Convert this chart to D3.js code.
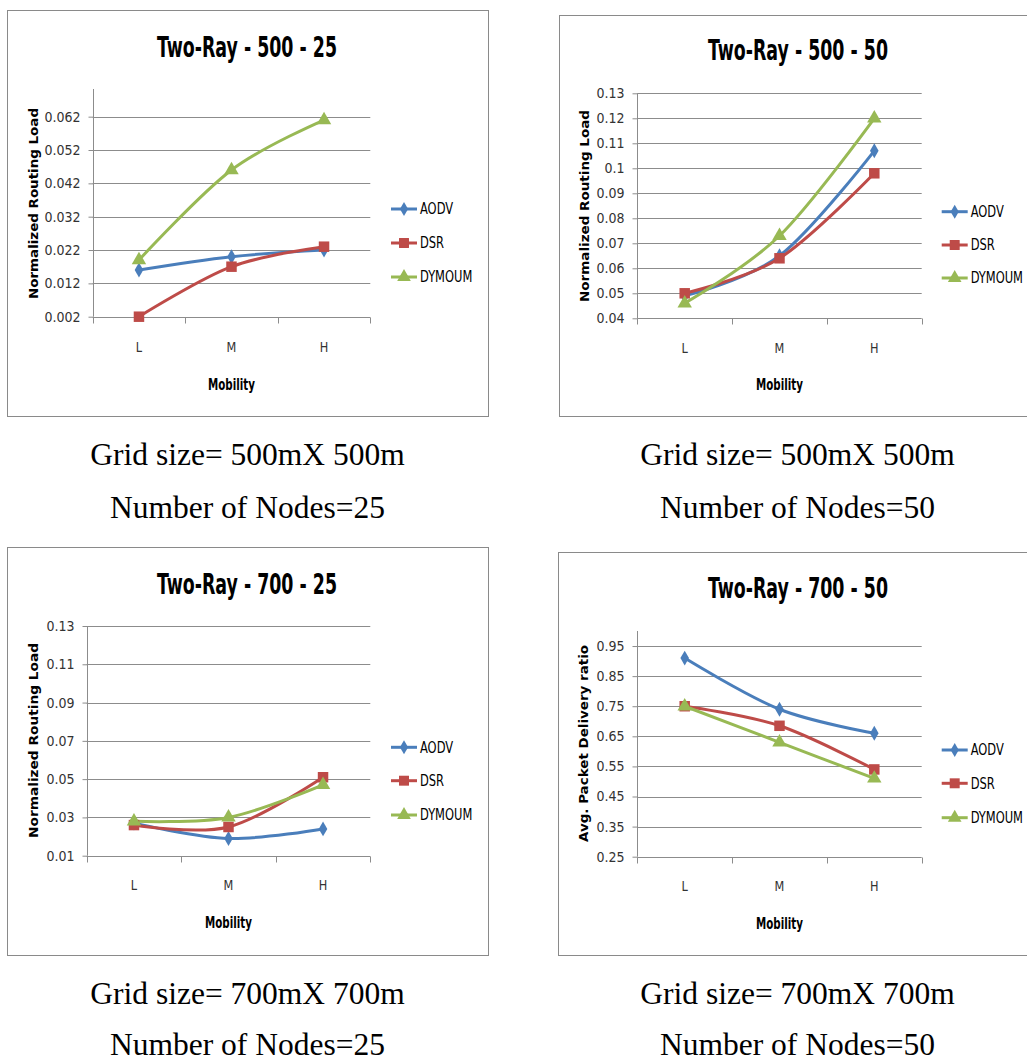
<!DOCTYPE html>
<html><head><meta charset="utf-8">
<script src="https://cdn.jsdelivr.net/npm/d3@7"></script>
<style>html,body{margin:0;padding:0;background:#fff;}svg{display:block;}</style>
</head><body>
<svg id="c" width="1027" height="1063"></svg>
<script>
// ---------- data ----------
const categories = ["L", "M", "H"];
const seriesNames = ["AODV", "DSR", "DYMOUM"];

const aodv_500_25   = [0.016, 0.020, 0.022];
const dsr_500_25    = [0.002, 0.017, 0.023];
const dymoum_500_25 = [0.019, 0.046, 0.061];
const ticks_500_25  = ["0.002","0.012","0.022","0.032","0.042","0.052","0.062"];

const aodv_500_50   = [0.049, 0.065, 0.107];
const dsr_500_50    = [0.050, 0.064, 0.098];
const dymoum_500_50 = [0.046, 0.073, 0.120];
const ticks_500_50  = ["0.04","0.05","0.06","0.07","0.08","0.09","0.1","0.11","0.12","0.13"];

const aodv_700_25   = [0.027, 0.019, 0.024];
const dsr_700_25    = [0.026, 0.025, 0.051];
const dymoum_700_25 = [0.028, 0.030, 0.047];
const ticks_700_25  = ["0.01","0.03","0.05","0.07","0.09","0.11","0.13"];

const aodv_700_50   = [0.91, 0.74, 0.66];
const dsr_700_50    = [0.75, 0.685, 0.54];
const dymoum_700_50 = [0.75, 0.63, 0.51];
const ticks_700_50  = ["0.25","0.35","0.45","0.55","0.65","0.75","0.85","0.95"];

const titles  = ["Two-Ray - 500 - 25", "Two-Ray - 500 - 50", "Two-Ray - 700 - 25", "Two-Ray - 700 - 50"];
const yTitles = ["Normalized Routing  Load", "Normalized Routing  Load", "Normalized Routing  Load", "Avg. Packet Delivery ratio"];
const xTitle = "Mobility";
const captions = [
  ["Grid size= 500mX 500m", "Number of Nodes=25"],
  ["Grid size= 500mX 500m", "Number of Nodes=50"],
  ["Grid size= 700mX 700m", "Number of Nodes=25"],
  ["Grid size= 700mX 700m", "Number of Nodes=50"]
];
const yDomains = [[0.002, 0.07], [0.04, 0.13], [0.01, 0.13], [0.25, 1.0]];

// ---------- styles / layout ----------
const colors = {AODV: "#4a7ebb", DSR: "#be4b48", DYMOUM: "#98b954"};
const symbols = {AODV: d3.symbolDiamond, DSR: d3.symbolSquare, DYMOUM: d3.symbolTriangle};
const symSize = {AODV: 64, DSR: 110, DYMOUM: 90};
const NARROW = '"Liberation Sans Narrow","Arial Narrow","DejaVu Sans Condensed","Roboto Condensed",sans-serif';

const layouts = [
  {frame:[7.5,10.5,481,406], x0:92.7, x1:370.3, yb:316.7, yt:90,   axTop:89,  titleX:247, titleY:57,  ytX:38,  ytY:203.5, ytLen:191, catY:352, mobY:390, legX:391, legYs:[209,243,277], capX:247.5, capYs:[465,518]},
  {frame:[559.5,15.5,480,401], x0:637.3, x1:921.7, yb:318.3, yt:93.3, axTop:93.3, titleX:798, titleY:60,  ytX:589, ytY:206,   ytLen:192, catY:353, mobY:390, legX:941.7, legYs:[211.7,245,278], capX:797.5, capYs:[465,518]},
  {frame:[7.5,547.5,481,408], x0:86.7, x1:370.3, yb:855.7, yt:626,  axTop:626, titleX:247, titleY:594, ytX:38,  ytY:740.5, ytLen:195, catY:890, mobY:928, legX:391, legYs:[747.3,780.7,815], capX:247.5, capYs:[1004,1055]},
  {frame:[558.5,552.5,480,403], x0:637.3, x1:921.7, yb:856.7, yt:631,  axTop:631, titleX:798, titleY:598, ytX:588, ytY:743.5, ytLen:197, catY:891, mobY:929, legX:941.7, legYs:[750,783.3,817.7], capX:797.5, capYs:[1004,1055]}
];

const panelData = [
  [aodv_500_25, dsr_500_25, dymoum_500_25, ticks_500_25],
  [aodv_500_50, dsr_500_50, dymoum_500_50, ticks_500_50],
  [aodv_700_25, dsr_700_25, dymoum_700_25, ticks_700_25],
  [aodv_700_50, dsr_700_50, dymoum_700_50, ticks_700_50]
];

const svg = d3.select("#c");
svg.append("rect").attr("width",1027).attr("height",1063).attr("fill","#fff");

// narrow text helper: horizontal squeeze so that the wide fallback font approaches Calibri widths
function narrowText(parent, x, y, txt, size, sx, opts = {}) {
  return parent.append("text")
    .attr("transform", `translate(${x},${y}) scale(${sx},1)`)
    .attr("text-anchor", opts.anchor || "start")
    .attr("dy", opts.dy || null)
    .attr("font-family", NARROW)
    .attr("font-weight", opts.bold ? "bold" : "normal")
    .attr("font-size", size)
    .attr("fill", opts.fill || "#000")
    .text(txt);
}

panelData.forEach((pd, i) => {
  const L = layouts[i];
  const g = svg.append("g");
  // frame
  g.append("rect").attr("x",L.frame[0]).attr("y",L.frame[1]).attr("width",L.frame[2]).attr("height",L.frame[3])
    .attr("fill","#fff").attr("stroke","#8a8a8a").attr("stroke-width",1);

  const x = d3.scaleBand().domain(categories).range([L.x0, L.x1]);
  const y = d3.scaleLinear().domain(yDomains[i]).range([L.yb, L.yt]);
  const tickVals = pd[3].map(Number);

  // gridlines
  g.append("g").selectAll("line").data(tickVals.slice(1)).join("line")
    .attr("x1", L.x0).attr("x2", L.x1)
    .attr("y1", d => Math.round(y(d))+0.5).attr("y2", d => Math.round(y(d))+0.5)
    .attr("stroke","#8c8c8c").attr("stroke-width",1);

  // y axis
  const yAxis = d3.axisLeft(y).tickValues(tickVals).tickFormat((d,k) => pd[3][k]).tickSize(5).tickPadding(8);
  const ya = g.append("g").attr("transform",`translate(${Math.round(L.x0)+0.5},0)`).call(yAxis);
  ya.select(".domain").remove();
  ya.append("line").attr("x1",0).attr("x2",0).attr("y1",L.axTop).attr("y2",L.yb).attr("stroke","#8c8c8c");
  ya.selectAll(".tick line").attr("stroke","#8c8c8c");
  ya.selectAll(".tick text").attr("font-family",NARROW).attr("font-size",14).attr("fill","#333");

  // x axis
  const xa = g.append("g").attr("transform",`translate(0,${Math.round(L.yb)+0.5})`);
  xa.append("line").attr("x1",L.x0).attr("x2",L.x1).attr("stroke","#8c8c8c");
  const bounds = [L.x0].concat(categories.map(c => x(c) + x.bandwidth()));
  xa.selectAll("line.t").data(bounds).join("line").attr("class","t")
    .attr("x1",d=>Math.round(d)+0.5).attr("x2",d=>Math.round(d)+0.5).attr("y1",0).attr("y2",6).attr("stroke","#8c8c8c");
  categories.forEach(c => {
    narrowText(g, x(c) + x.bandwidth()/2, L.catY, c, 14, 0.9, {anchor:"middle", fill:"#333"});
  });

  // titles
  g.append("text").attr("x",L.titleX).attr("y",L.titleY).attr("text-anchor","middle")
    .attr("font-family",NARROW).attr("font-weight","bold").attr("font-size",28)
    .attr("textLength",180).attr("lengthAdjust","spacingAndGlyphs").attr("fill","#000").text(titles[i]);
  narrowText(g, (L.x0+L.x1)/2, L.mobY, xTitle, 15.5, 0.74, {anchor:"middle", bold:true});
  g.append("text").attr("transform",`translate(${L.ytX},${L.ytY}) rotate(-90)`).attr("text-anchor","middle")
    .attr("font-family","'DejaVu Sans',Verdana,sans-serif").attr("font-weight","bold").attr("font-size",12.5)
    .attr("textLength",L.ytLen).attr("lengthAdjust","spacingAndGlyphs").attr("fill","#000").text(yTitles[i]);

  // series
  const line = d3.line().x((d,k)=>x(categories[k])+x.bandwidth()/2).y(d=>y(d)).curve(d3.curveCatmullRom.alpha(0));
  seriesNames.forEach((s, si) => {
    const vals = pd[si];
    g.append("path").datum(vals).attr("d",line).attr("fill","none")
      .attr("stroke",colors[s]).attr("stroke-width",3).attr("stroke-linejoin","round");
  });
  seriesNames.forEach((s, si) => {
    const vals = pd[si];
    g.append("g").selectAll("path").data(vals).join("path")
      .attr("transform",(d,k)=>`translate(${x(categories[k])+x.bandwidth()/2},${y(d)})`)
      .attr("d", d3.symbol().type(symbols[s]).size(symSize[s])).attr("fill",colors[s]);
  });

  // legend
  seriesNames.forEach((s, si) => {
    const ly = L.legYs[si];
    g.append("line").attr("x1",L.legX).attr("x2",L.legX+26).attr("y1",ly).attr("y2",ly)
      .attr("stroke",colors[s]).attr("stroke-width",3);
    g.append("path").attr("transform",`translate(${L.legX+13},${ly})`)
      .attr("d", d3.symbol().type(symbols[s]).size(symSize[s]*0.9)).attr("fill",colors[s]);
    narrowText(g, L.legX+29, ly, s, 15, 0.85, {dy:"0.36em"});
  });

  // captions
  captions[i].forEach((c, ci) => {
    svg.append("text").attr("x",L.capX).attr("y",L.capYs[ci]).attr("text-anchor","middle")
      .attr("font-family","'Liberation Serif','Times New Roman',serif").attr("font-size",31.5).attr("fill","#000").text(c);
  });
});
</script>
</body></html>
